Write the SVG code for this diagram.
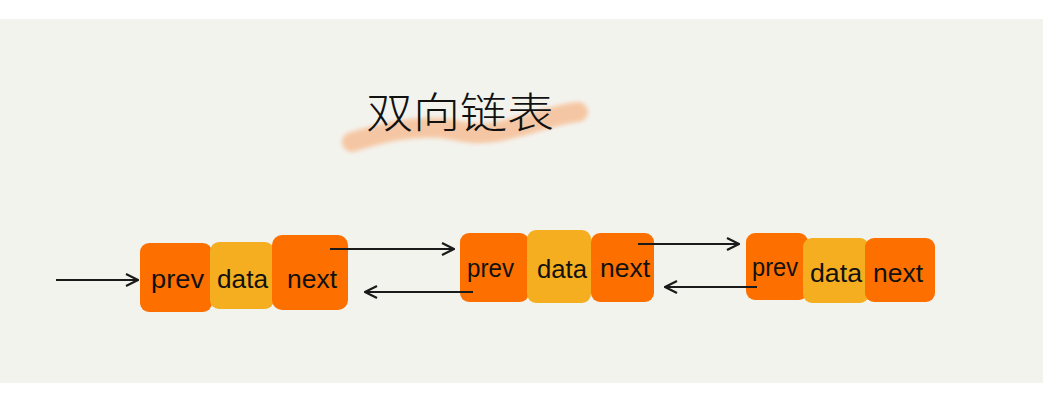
<svg xmlns="http://www.w3.org/2000/svg" width="1053" height="400" viewBox="0 0 1053 400">
<defs>
<style>
.bg{fill:#f3f3ee}
.o{fill:#fd7000}
.y{fill:#f5ae1f}
.t{font-family:"Liberation Sans",sans-serif;font-size:26px;fill:#111}
.title{font-family:"Noto Sans CJK SC",sans-serif;font-size:42px;font-weight:300;fill:#111}
.ln{stroke:#1a1a1a;stroke-width:2.2;fill:none}
</style>
<marker id="ah" viewBox="0 0 14 14" refX="13" refY="7" markerWidth="14" markerHeight="14" markerUnits="userSpaceOnUse" orient="auto">
<path d="M1,1 L13,7 L1,13" fill="none" stroke="#1a1a1a" stroke-width="2.2"/>
</marker>
<filter id="blur" x="-10%" y="-50%" width="120%" height="200%"><feGaussianBlur stdDeviation="2"/></filter>
</defs>
<rect x="0" y="0" width="1053" height="400" fill="#ffffff"/>
<rect class="bg" x="0" y="19" width="1043" height="364"/>
<g id="title">
<path d="M352,142 C385,132 410,126 440,128 C460,130 470,136 495,132 C525,127 555,114 578,112" fill="none" stroke="#f6c29b" stroke-width="20" stroke-linecap="round" opacity="0.9" filter="url(#blur)"/>
<text class="title" x="366" y="128" textLength="188" lengthAdjust="spacingAndGlyphs">双向链表</text>
</g>
<g id="node1">
<rect class="o" x="140" y="243" width="72" height="69" rx="9"/>
<rect class="y" x="210" y="242" width="64" height="67" rx="9"/>
<rect class="o" x="272" y="235" width="76" height="75" rx="10"/>
<text class="t" x="151" y="288" textLength="53" lengthAdjust="spacingAndGlyphs">prev</text>
<text class="t" x="217" y="288" textLength="51" lengthAdjust="spacingAndGlyphs">data</text>
<text class="t" x="287" y="288" textLength="50" lengthAdjust="spacingAndGlyphs">next</text>
</g>
<g id="node2">
<rect class="o" x="460" y="233" width="69" height="69" rx="9"/>
<rect class="y" x="527" y="230" width="64" height="73" rx="9"/>
<rect class="o" x="591" y="233" width="63" height="69" rx="9"/>
<text class="t" x="467" y="277" textLength="47" lengthAdjust="spacingAndGlyphs">prev</text>
<text class="t" x="537" y="278" textLength="50" lengthAdjust="spacingAndGlyphs">data</text>
<text class="t" x="600" y="277" textLength="50" lengthAdjust="spacingAndGlyphs">next</text>
</g>
<g id="node3">
<rect class="o" x="746" y="233" width="62" height="67" rx="9"/>
<rect class="y" x="803" y="238" width="66" height="65" rx="9"/>
<rect class="o" x="865" y="238" width="70" height="64" rx="9"/>
<text class="t" x="752" y="276" textLength="46" lengthAdjust="spacingAndGlyphs">prev</text>
<text class="t" x="810" y="282" textLength="52" lengthAdjust="spacingAndGlyphs">data</text>
<text class="t" x="873" y="282" textLength="50" lengthAdjust="spacingAndGlyphs">next</text>
</g>
<g id="connectors">
<line class="ln" x1="56" y1="280" x2="138" y2="280" marker-end="url(#ah)"/>
<line class="ln" x1="330" y1="249" x2="454" y2="249" marker-end="url(#ah)"/>
<line class="ln" x1="473" y1="292" x2="365" y2="292" marker-end="url(#ah)"/>
<line class="ln" x1="638" y1="244" x2="739" y2="244" marker-end="url(#ah)"/>
<line class="ln" x1="757" y1="287" x2="665" y2="287" marker-end="url(#ah)"/>
</g>
</svg>
